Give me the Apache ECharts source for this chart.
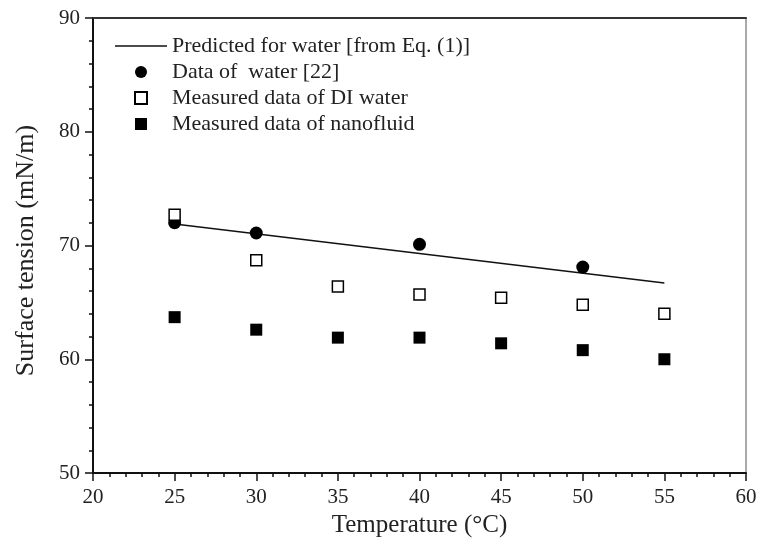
<!DOCTYPE html>
<html>
<head>
<meta charset="utf-8">
<script src="https://cdn.jsdelivr.net/npm/echarts@6/dist/echarts.min.js"></script>
<style>
  html, body { margin: 0; padding: 0; background: #fff; }
  #chart { width: 761px; height: 554px; }
</style>
</head>
<body>
<div id="chart"></div>
<script>
// predicted line from Eq. (1), two ends
const predictedTemp = [25, 55];
const predictedVal = [71.9, 66.7];

const waterTemp = [25, 30, 40, 50];
const waterVal = [72.0, 71.1, 70.1, 68.1];

const diTemp = [25, 30, 35, 40, 45, 50, 55];
const diVal = [72.7, 68.7, 66.4, 65.7, 65.4, 64.8, 64.0];

const nanoTemp = [25, 30, 35, 40, 45, 50, 55];
const nanoVal = [63.7, 62.6, 61.9, 61.9, 61.4, 60.8, 60.0];

const xTicks = [20, 25, 30, 35, 40, 45, 50, 55, 60];
const yTicks = [50, 60, 70, 80, 90];

const names = [
  "Predicted for water [from Eq. (1)]",
  "Data of  water [22]",
  "Measured data of DI water",
  "Measured data of nanofluid",
];

const pair = (xs, ys) => xs.map((x, i) => [x, ys[i]]);

const font = "Liberation Serif";
const textColor = "#222";
const squareIcon = "path://M0,0H10V10H0Z";

const chart = echarts.init(document.getElementById("chart"));

chart.setOption({
  backgroundColor: "#fff",
  animation: false,
  grid: { left: 93, right: 15, top: 18, bottom: 81 },
  legend: {
    left: 110,
    top: 30,
    orient: "vertical",
    itemWidth: 52,
    itemHeight: 12,
    itemGap: 4,
    symbolKeepAspect: true,
    selectedMode: false,
    textStyle: {
      fontFamily: font,
      fontSize: 22,
      color: textColor,
    },
    data: [
      { name: names[0], icon: "path://M0,0H52V1.5H0Z" },
      { name: names[1], icon: "circle" },
      { name: names[2], icon: squareIcon },
      { name: names[3], icon: squareIcon },
    ],
  },
  xAxis: [
    {
      type: "value",
      min: xTicks[0],
      max: xTicks[xTicks.length - 1],
      interval: 5,
      name: "Temperature (°C)",
      nameLocation: "middle",
      nameGap: 37,
      nameTextStyle: { fontFamily: font, fontSize: 25, color: textColor },
      axisLine: { show: true, onZero: false, lineStyle: { color: "#111", width: 2 } },
      axisTick: { show: true, length: 8, lineStyle: { color: "#111", width: 1.5 } },
      minorTick: { show: true, splitNumber: 5, length: 4, lineStyle: { color: "#111", width: 1.5 } },
      axisLabel: { fontFamily: font, fontSize: 21, color: textColor, margin: 14 },
      splitLine: { show: false },
    },
    {
      type: "value",
      position: "top",
      min: xTicks[0],
      max: xTicks[xTicks.length - 1],
      axisLine: { show: true, onZero: false, lineStyle: { color: "#333", width: 2 } },
      axisTick: { show: false },
      axisLabel: { show: false },
      splitLine: { show: false },
    },
  ],
  yAxis: [
    {
      type: "value",
      min: yTicks[0],
      max: yTicks[yTicks.length - 1],
      interval: 10,
      name: "Surface tension (mN/m)",
      nameLocation: "middle",
      nameGap: 54,
      nameTextStyle: { fontFamily: font, fontSize: 26, color: textColor, padding: [0, 10, 0, 0] },
      axisLine: { show: true, onZero: false, lineStyle: { color: "#111", width: 2 } },
      axisTick: { show: true, length: 8, lineStyle: { color: "#111", width: 1.5 } },
      minorTick: { show: true, splitNumber: 5, length: 4, lineStyle: { color: "#111", width: 1.5 } },
      axisLabel: { fontFamily: font, fontSize: 21, color: textColor, margin: 13 },
      splitLine: { show: false },
    },
    {
      type: "value",
      position: "right",
      min: yTicks[0],
      max: yTicks[yTicks.length - 1],
      axisLine: { show: true, onZero: false, lineStyle: { color: "#aaa", width: 2 } },
      axisTick: { show: false },
      axisLabel: { show: false },
      splitLine: { show: false },
    },
  ],
  series: [
    {
      name: names[0],
      type: "line",
      data: pair(predictedTemp, predictedVal),
      symbol: "none",
      lineStyle: { color: "#111", width: 1.5 },
      itemStyle: { color: "#111" },
      z: 2,
    },
    {
      name: names[1],
      type: "scatter",
      data: pair(waterTemp, waterVal),
      symbol: "circle",
      symbolSize: 13,
      itemStyle: { color: "#000", opacity: 1 },
      z: 3,
    },
    {
      name: names[2],
      type: "scatter",
      data: pair(diTemp, diVal),
      symbol: "rect",
      symbolSize: 11,
      itemStyle: { color: "#fff", borderColor: "#000", borderWidth: 1.5, opacity: 1 },
      z: 3,
    },
    {
      name: names[3],
      type: "scatter",
      data: pair(nanoTemp, nanoVal),
      symbol: "rect",
      symbolSize: 12,
      itemStyle: { color: "#000", opacity: 1 },
      z: 3,
    },
  ],
});
</script>
</body>
</html>
